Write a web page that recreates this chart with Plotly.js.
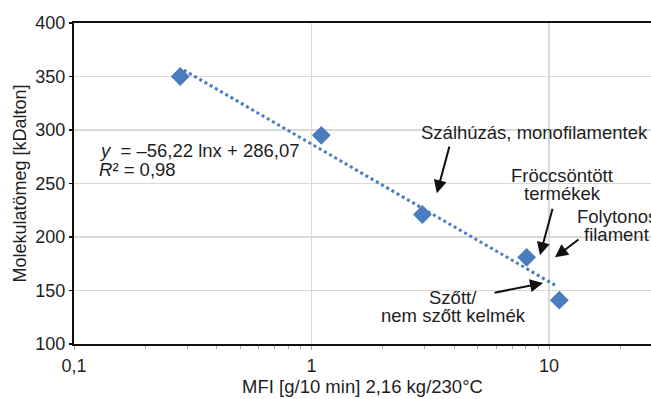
<!DOCTYPE html>
<html>
<head>
<meta charset="utf-8">
<script src="https://cdn.plot.ly/plotly-3.0.1.min.js"></script>
<style>html,body{margin:0;padding:0;background:#fff;}#chart{width:651px;height:399px;}</style>
</head>
<body>
<div id="chart"></div>
<script>
// Data
const mfi = [0.28, 1.1, 2.93, 8.05, 11.05];
const molWeight = [350, 295, 221, 181, 141];
// Trendline endpoints (straight on log-x)
const trendX = [0.29, 10.8];
const trendY = [356, 154];
const xTickVals = [0.1, 1, 10];
const xTickText = ['0,1', '1', '10'];
const yTickVals = [100, 150, 200, 250, 300, 350, 400];

const FONT = 'Liberation Sans, Arial, sans-serif';
const BLUE = '#4a7dbf';
const TXT = '#1e1e1e';

const traces = [
  {
    x: trendX, y: trendY, type: 'scatter', mode: 'lines',
    line: {color: BLUE, width: 3, dash: 'dot'}, hoverinfo: 'skip'
  },
  {
    x: mfi, y: molWeight, type: 'scatter', mode: 'markers',
    marker: {symbol: 'diamond', size: 14.5, color: BLUE, line: {width: 0}}
  }
];

const L = Math.log10;
function arrow(xv, yv, ax, ay) {
  return {x: L(xv), y: yv, xref: 'x', yref: 'y', text: '', showarrow: true,
    ax: ax, ay: ay, axref: 'pixel', ayref: 'pixel',
    arrowhead: 2, arrowsize: 1.3, arrowwidth: 2, arrowcolor: '#111', standoff: 0, startstandoff: 0};
}
function label(px, py, txt, xanchor) {
  return {x: px, y: py, xref: 'paper', yref: 'paper', text: txt, showarrow: false,
    xanchor: xanchor, yanchor: 'middle', align: 'center',
    font: {family: FONT, size: 18.5, color: TXT}};
}

const layout = {
  width: 651, height: 399,
  margin: {l: 74, r: 0, t: 23, b: 55},
  paper_bgcolor: '#fff', plot_bgcolor: '#fff',
  showlegend: false,
  separators: ', ',
  font: {family: FONT, size: 18, color: TXT},
  xaxis: {
    type: 'log', range: [-1, -1 + 577 / 237.5],
    tickmode: 'array', tickvals: xTickVals, ticktext: xTickText,
    ticks: 'outside', ticklen: 4, tickcolor: '#aaa', tickwidth: 1,
    showgrid: true, gridcolor: '#d9d9d9', gridwidth: 1.5,
    showline: true, linecolor: '#111', linewidth: 2, mirror: true,
    zeroline: false,
    minor: {ticks: 'outside', ticklen: 3, tickcolor: '#aaa', tickwidth: 1, dtick: 'D1', showgrid: false},
    tickfont: {family: FONT, size: 18, color: TXT},
    title: {text: 'MFI [g/10 min] 2,16 kg/230°C', font: {family: FONT, size: 18.5, color: TXT}, standoff: 2}
  },
  yaxis: {
    range: [100, 400], tickmode: 'array', tickvals: yTickVals,
    ticks: 'outside', ticklen: 3, tickcolor: '#111', tickwidth: 1.5,
    showgrid: true, gridcolor: '#d9d9d9', gridwidth: 1.5,
    showline: true, linecolor: '#111', linewidth: 2,
    zeroline: false,
    tickfont: {family: FONT, size: 18, color: TXT},
    title: {text: 'Molekulatömeg [kDalton]', font: {family: FONT, size: 18, color: TXT}, standoff: 4}
  },
  annotations: [
    label(0.040, 0.604, '<i>y</i>  = –56,22 lnx + 286,07', 'left'),
    label(0.040, 0.545, '<i>R</i>² = 0,98', 'left'),
    label(0.798, 0.660, 'Szálhúzás, monofilamentek', 'center'),
    label(0.846, 0.526, 'Fröccsöntött', 'center'),
    label(0.846, 0.470, 'termékek', 'center'),
    label(0.941, 0.396, 'Folytonos', 'center'),
    label(0.941, 0.340, 'filament', 'center'),
    label(0.657, 0.146, 'Szőtt/', 'center'),
    label(0.657, 0.090, 'nem szőtt kelmék', 'center'),
    arrow(3.37, 241, 13, -48),
    arrow(9.16, 183, 13, -48),
    arrow(10.6, 181, 25, -19),
    arrow(9.44, 157, -50, 10)
  ]
};

Plotly.newPlot('chart', traces, layout, {displayModeBar: false, staticPlot: true});
</script>
</body>
</html>
